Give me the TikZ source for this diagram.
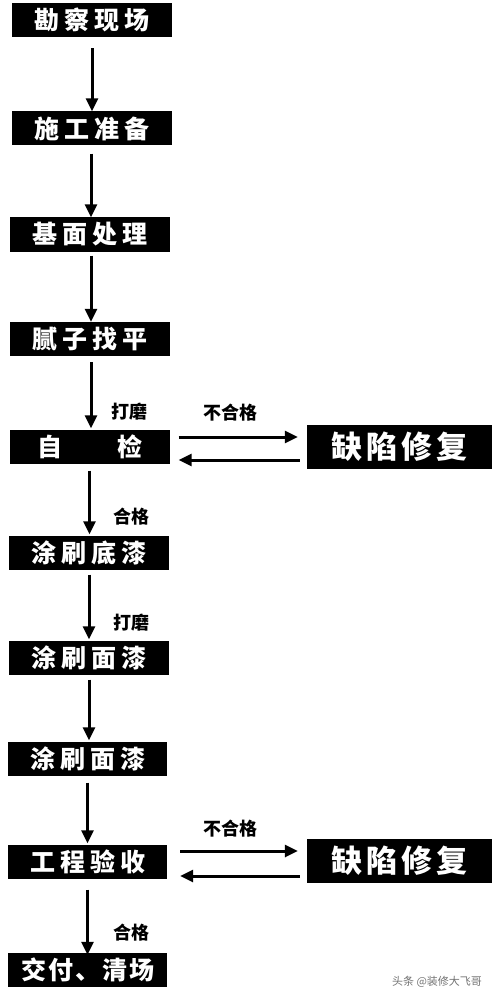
\documentclass[tikz,border=0pt]{standalone}
\usepackage{fontspec}
\newfontfamily\cjk{Noto Sans CJK SC}
\usetikzlibrary{arrows.meta}
\newcommand\gp{\hspace{5pt}}
\newcommand\gq{\hspace{4pt}}
\begin{document}
\begin{tikzpicture}[x=1pt,y=-1pt,
  stepbox/.style={fill=black,text=white,minimum width=160pt,minimum height=34pt,inner sep=0pt,font=\cjk\bfseries\fontsize{25}{27}\selectfont},
  fixbox/.style={fill=black,text=white,minimum width=185pt,minimum height=44pt,inner sep=0pt,font=\cjk\bfseries\fontsize{31}{33}\selectfont},
  lbl/.style={font=\cjk\bfseries\fontsize{18}{20}\selectfont,inner sep=0pt},
  flow/.style={line width=3pt,-{Triangle[length=13pt,width=12pt]}},
  wmtext/.style={font=\cjk\fontsize{11}{13}\selectfont,text=black!55,inner sep=0pt}]
\useasboundingbox (0,0) rectangle (500,1000);
\node[stepbox] (b1) at (92,20) {勘\gp 察\gp 现\gp 场};
\node[stepbox] (b2) at (92,128.5) {施\gp 工\gp 准\gp 备};
\node[stepbox] (b3) at (90,234.5) {基\gp 面\gp 处\gp 理};
\node[stepbox] (b4) at (90,339) {腻\gp 子\gp 找\gp 平};
\node[stepbox] (b5) at (89.5,446.5) {自\hspace{55pt}检};
\node[stepbox] (b6) at (89,552.5) {涂\gp 刷\gp 底\gp 漆};
\node[stepbox] (b7) at (89,657.5) {涂\gp 刷\gp 面\gp 漆};
\node[stepbox,minimum width=159pt] (b8) at (87.5,758.5) {涂\gp 刷\gp 面\gp 漆};
\node[stepbox,minimum width=159pt] (b9) at (87.5,861.5) {工\gp 程\gp 验\gp 收};
\node[stepbox,minimum width=159pt] (b10) at (87.5,970) {交\hspace{2pt}付\hspace{2pt}、\hspace{2pt}清\hspace{2pt}场};
\node[fixbox] (r1) at (399.5,447) {缺\gq 陷\gq 修\gq 复};
\node[fixbox] (r2) at (399.5,861) {缺\gq 陷\gq 修\gq 复};
\draw[flow] ([yshift=-11pt]b1.south) -- (b1.south |- b2.north);
\draw[flow] ([xshift=-1pt,yshift=-8pt]b2.south) -- ([xshift=-1pt]b2.south |- b3.north);
\draw[flow] ([xshift=1pt,yshift=-4pt]b3.south) -- ([xshift=1pt]b3.south |- b4.north);
\draw[flow] ([xshift=1pt,yshift=-6pt]b4.south) -- ([xshift=1pt,yshift=1pt]b4.south |- b5.north);
\draw[flow] ([yshift=-7pt]b5.south) -- ([yshift=1pt]b5.south |- b6.north);
\draw[flow] ([yshift=-5pt]b6.south) -- ([yshift=1pt]b6.south |- b7.north);
\draw[flow] ([yshift=-5pt]b7.south) -- ([yshift=1pt]b7.south |- b8.north);
\draw[flow] ([yshift=-7pt]b8.south) -- ([yshift=1pt]b8.south |- b9.north);
\draw[flow] ([yshift=-11pt]b9.south) -- ([yshift=-2pt]b9.south |- b10.north);
\draw[flow] ([xshift=9pt,yshift=9.5pt]b5.east) -- ([xshift=-9pt,yshift=10pt]r1.west);
\draw[flow] ([xshift=-7pt,yshift=-13pt]r1.west) -- ([xshift=9pt,yshift=-13.5pt]b5.east);
\draw[flow] ([xshift=13pt,yshift=10.5pt]b9.east) -- ([xshift=-9pt,yshift=10pt]r2.west);
\draw[flow] ([xshift=-7pt,yshift=-15pt]r2.west) -- ([xshift=13pt,yshift=-14.5pt]b9.east);
\node[lbl] (t1) at (129,412) {打磨};
\node[lbl] (t2) at (230,413) {不合格};
\node[lbl] (t3) at (131,517) {合格};
\node[lbl] (t4) at (131,623) {打磨};
\node[lbl] (t5) at (230,829) {不合格};
\node[lbl] (t6) at (131,933) {合格};
\node[wmtext] (wm) at (437,982) {头条 @装修大飞哥};
\end{tikzpicture}
\end{document}
